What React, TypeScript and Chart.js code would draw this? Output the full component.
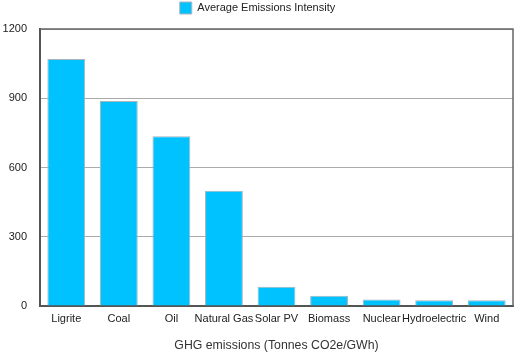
import React, { useEffect, useRef } from "react";
import { Chart, registerables } from "chart.js";

Chart.register(...registerables);

const categories = ["Ligrite", "Coal", "Oil", "Natural Gas", "Solar PV", "Biomass", "Nuclear", "Hydroelectric", "Wind"];
const seriesName = "Average Emissions Intensity";
const emissions = [1070, 888, 735, 499, 84, 45, 28, 25, 25];
const yTicks = [0, 300, 600, 900, 1200];
const xTitle = "GHG emissions (Tonnes CO2e/GWh)";

const frame = {
  id: "frame",
  beforeLayout(chart: any) {
    const lg = chart.legend;
    if (lg && !lg.__patched) {
      const orig = lg.fit.bind(lg);
      lg.fit = function () {
        orig();
        this.height += 5;
      };
      lg.__patched = true;
    }
  },
  afterDraw(chart: any) {
    const { ctx, chartArea } = chart;
    ctx.save();
    ctx.strokeStyle = "#666";
    ctx.lineWidth = 1.5;
    ctx.beginPath();
    ctx.moveTo(chartArea.left, chartArea.top);
    ctx.lineTo(chartArea.right, chartArea.top);
    ctx.lineTo(chartArea.right, chartArea.bottom);
    ctx.stroke();
    ctx.restore();
  },
};

export default function App() {
  const ref = useRef<HTMLCanvasElement>(null);
  useEffect(() => {
    document.body.style.margin = "0";
    const font = "Helvetica, Arial, 'Liberation Sans', sans-serif";
    const chart = new Chart(ref.current!, {
      type: "bar",
      data: {
        labels: categories,
        datasets: [
          {
            label: seriesName,
            data: emissions,
            backgroundColor: "#00C2FF",
            borderColor: "#A8B4BC",
            borderWidth: 1,
          },
        ],
      },
      options: {
        animation: false,
        responsive: false,
        layout: { padding: { left: 2, right: 10, top: 0, bottom: 2 } },
        plugins: {
          legend: {
            position: "top",
            labels: {
              boxWidth: 12,
              boxHeight: 12,
              padding: 2,
              color: "#222",
              font: { size: 11, family: font },
            },
          },
          tooltip: { enabled: false },
        },
        scales: {
          x: {
            grid: { display: false, drawTicks: false },
            border: { color: "#555", width: 2 },
            ticks: { color: "#222", padding: 6, font: { size: 11, family: font }, maxRotation: 0, autoSkip: false },
            title: { display: true, text: xTitle, color: "#333", font: { size: 12.3, family: font }, padding: { top: 7, bottom: 1 } },
          },
          y: {
            min: 0,
            max: 1200,
            afterBuildTicks: (axis: any) => {
              axis.ticks = yTicks.map((v) => ({ value: v }));
            },
            afterFit: (s: any) => {
              s.width = 38;
            },
            grid: { color: "#AAAAAA", lineWidth: 1, drawTicks: false },
            border: { color: "#555", width: 2 },
            ticks: { color: "#222", padding: 13, font: { size: 11, family: font }, callback: (v: any) => String(v) },
          },
        },
      },
      plugins: [frame],
    });
    return () => chart.destroy();
  }, []);
  return <canvas ref={ref} width={523} height={356} style={{ display: "block" }} />;
}
